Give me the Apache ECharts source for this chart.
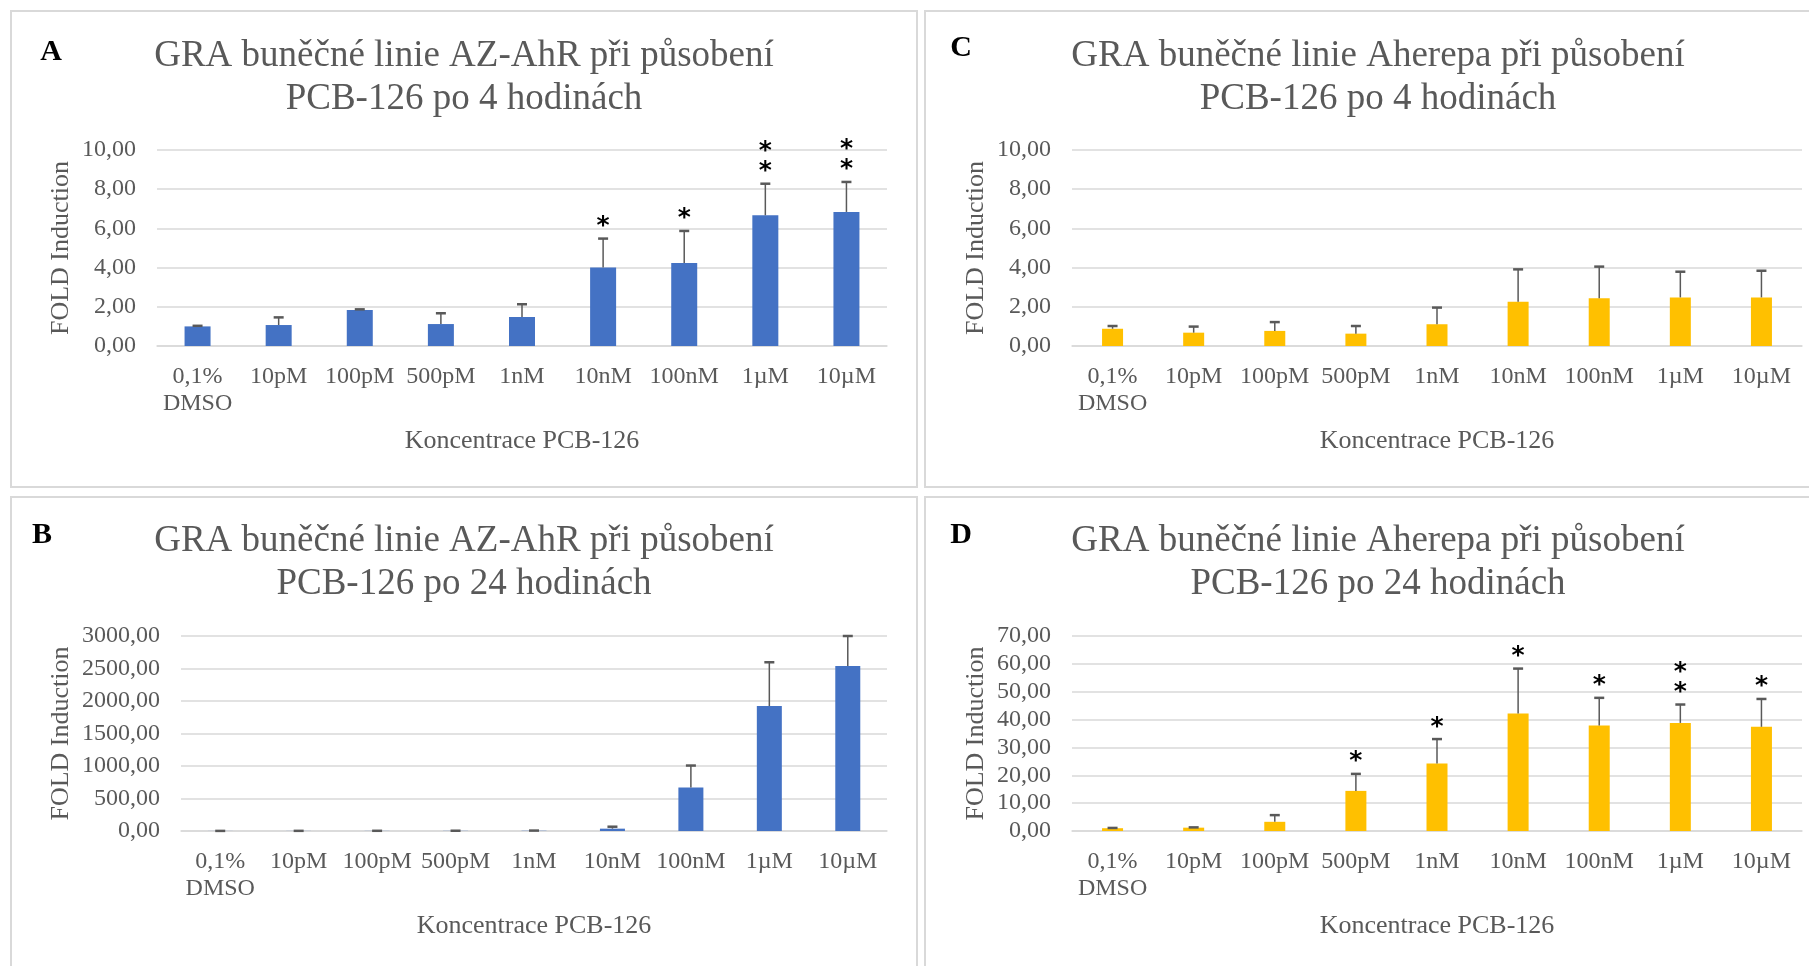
<!DOCTYPE html>
<html>
<head>
<meta charset="utf-8">
<script src="https://cdn.jsdelivr.net/npm/echarts@6/dist/echarts.min.js"></script>
<style>
  html, body { margin: 0; padding: 0; background: #fff; }
  #chart { width: 1809px; height: 966px; }
</style>
</head>
<body>
<div id="chart"></div>
<script>
// koncentrace PCB-126
const categories = ['0,1%\nDMSO', '10pM', '100pM', '500pM', '1nM', '10nM', '100nM', '1µM', '10µM'];

// A: AZ-AhR 4 h
const valuesA = [1.00, 1.07, 1.84, 1.12, 1.48, 4.01, 4.23, 6.67, 6.84];
const errorsA = [0.03, 0.39, 0.03, 0.55, 0.65, 1.47, 1.64, 1.61, 1.53];
const starsA  = [0, 0, 0, 0, 0, 1, 1, 2, 2];

// B: AZ-AhR 24 h
const valuesB = [1.0, 1.3, 1.6, 2.2, 3.5, 36, 670, 1922, 2540];
const errorsB = [0.5, 1.0, 1.5, 2.0, 3.0, 30, 337, 674, 460];
const starsB  = [0, 0, 0, 0, 0, 0, 0, 0, 0];

// C: Aherepa 4 h
const valuesC = [0.88, 0.68, 0.77, 0.63, 1.11, 2.26, 2.43, 2.48, 2.48];
const errorsC = [0.14, 0.31, 0.45, 0.39, 0.85, 1.65, 1.62, 1.31, 1.36];
const starsC  = [0, 0, 0, 0, 0, 0, 0, 0, 0];

// D: Aherepa 24 h
const valuesD = [1.0, 1.2, 3.3, 14.4, 24.2, 42.2, 37.9, 38.8, 37.4];
const errorsD = [0.1, 0.1, 2.4, 6.1, 8.8, 16.1, 9.9, 6.6, 10.0];
const starsD  = [0, 0, 0, 1, 1, 1, 1, 2, 1];

const titles = [
  'GRA buněčné linie AZ-AhR při působení\nPCB-126 po 4 hodinách',
  'GRA buněčné linie AZ-AhR při působení\nPCB-126 po 24 hodinách',
  'GRA buněčné linie Aherepa při působení\nPCB-126 po 4 hodinách',
  'GRA buněčné linie Aherepa při působení\nPCB-126 po 24 hodinách'
];
const letters = ['A', 'B', 'C', 'D'];
const yMax = [10, 3000, 10, 70];
const yStep = [2, 500, 2, 10];

const BLUE = '#4472C4', GOLD = '#FFC000';
const GREY = '#595959', LINE = '#D9D9D9';
const FONT = '"Liberation Serif", "Times New Roman", serif';

const panels = [
  { vals: valuesA, errs: errorsA, stars: starsA, color: BLUE, barW: 26,
    grid: { left: 157, top: 150, width: 730, height: 196 }, box: [11, 11, 906, 476],
    tx: 464, ty: 78, lx: 51, ly: 52, nameGapY: 83 },
  { vals: valuesB, errs: errorsB, stars: starsB, color: BLUE, barW: 25,
    grid: { left: 181, top: 636, width: 706, height: 195 }, box: [11, 497, 906, 480],
    tx: 464, ty: 563, lx: 42, ly: 535, nameGapY: 107 },
  { vals: valuesC, errs: errorsC, stars: starsC, color: GOLD, barW: 21,
    grid: { left: 1072, top: 150, width: 730, height: 196 }, box: [925, 11, 890, 476],
    tx: 1378, ty: 78, lx: 961, ly: 48, nameGapY: 83 },
  { vals: valuesD, errs: errorsD, stars: starsD, color: GOLD, barW: 21,
    grid: { left: 1072, top: 636, width: 730, height: 195 }, box: [925, 497, 890, 480],
    tx: 1378, ty: 563, lx: 961, ly: 535, nameGapY: 83 }
];

function errorBar(params, api) {
  const b = api.coord([api.value(0), api.value(1)]);
  const t = api.coord([api.value(0), api.value(2)]);
  return {
    type: 'group',
    children: [
      { type: 'line', shape: { x1: b[0], y1: b[1], x2: t[0], y2: t[1] },
        style: { stroke: GREY, lineWidth: 1.5 } },
      { type: 'line', shape: { x1: t[0] - 5, y1: t[1], x2: t[0] + 5, y2: t[1] },
        style: { stroke: GREY, lineWidth: 2.5 } }
    ]
  };
}

function starMarks(params, api) {
  const t = api.coord([api.value(0), api.value(1)]);
  const n = api.value(2);
  const kids = [];
  for (let k = 0; k < n; k++) {
    kids.push({
      type: 'text',
      style: {
        text: '*', x: t[0], y: t[1] - 12 - 20 * k,
        textAlign: 'center', textVerticalAlign: 'middle',
        font: 'bold 25px "DejaVu Sans"', fill: '#000'
      }
    });
  }
  return { type: 'group', children: kids };
}

const grid = [], xAxis = [], yAxis = [], series = [], graphic = [];

panels.forEach((p, i) => {
  grid.push(p.grid);
  xAxis.push({
    type: 'category', gridIndex: i, data: categories,
    name: 'Koncentrace PCB-126', nameLocation: 'middle', nameGap: 82,
    nameTextStyle: { fontFamily: FONT, fontSize: 26, color: GREY },
    axisLine: { lineStyle: { color: LINE, width: 1.5 } },
    axisTick: { show: false },
    axisLabel: { interval: 0, margin: 17, fontFamily: FONT, fontSize: 24, color: GREY, lineHeight: 27 }
  });
  yAxis.push({
    type: 'value', gridIndex: i, min: 0, max: yMax[i], interval: yStep[i],
    name: 'FOLD Induction', nameLocation: 'middle', nameGap: p.nameGapY,
    nameTextStyle: { fontFamily: FONT, fontSize: 26, color: GREY },
    axisLine: { show: false }, axisTick: { show: false },
    axisLabel: { margin: 21, fontFamily: FONT, fontSize: 24, color: GREY,
      formatter: v => v.toFixed(2).replace('.', ',') },
    splitLine: { lineStyle: { color: LINE, width: 1.5 } }
  });
  series.push({
    type: 'bar', xAxisIndex: i, yAxisIndex: i, data: p.vals,
    barWidth: p.barW, itemStyle: { color: p.color }, z: 2
  });
  series.push({
    type: 'custom', xAxisIndex: i, yAxisIndex: i, z: 3,
    renderItem: errorBar,
    encode: { x: 0, y: [1, 2] },
    data: p.vals.map((v, j) => [j, v, v + p.errs[j]])
  });
  series.push({
    type: 'custom', xAxisIndex: i, yAxisIndex: i, z: 4,
    renderItem: starMarks,
    encode: { x: 0, y: 1 },
    data: p.vals.map((v, j) => [j, v + p.errs[j], p.stars[j]])
  });
  graphic.push({
    type: 'rect', shape: { x: p.box[0], y: p.box[1], width: p.box[2], height: p.box[3] },
    style: { fill: 'none', stroke: LINE, lineWidth: 2 }, silent: true
  });
  graphic.push({
    type: 'text', style: { text: titles[i], x: p.tx, y: p.ty, textAlign: 'center',
      textVerticalAlign: 'middle', font: '37px ' + FONT, fill: GREY, lineHeight: 43 }
  });
  graphic.push({
    type: 'text', style: { text: letters[i], x: p.lx, y: p.ly, textAlign: 'center',
      textVerticalAlign: 'middle', font: 'bold 30px ' + FONT, fill: '#000' }
  });
});

const chart = echarts.init(document.getElementById('chart'));
chart.setOption({
  animation: false,
  backgroundColor: '#fff',
  grid, xAxis, yAxis, series, graphic
});
</script>
</body>
</html>
